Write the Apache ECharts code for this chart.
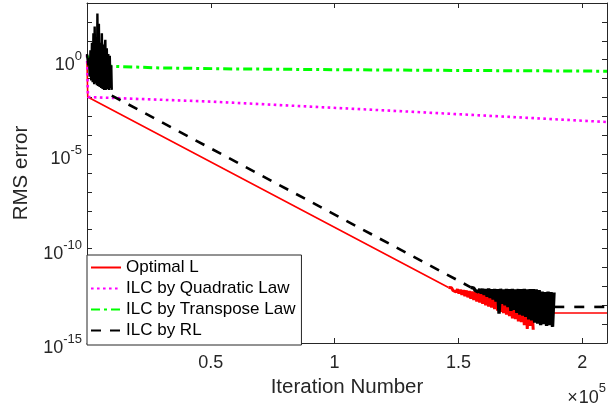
<!DOCTYPE html>
<html>
<head>
<meta charset="utf-8">
<script src="https://cdn.jsdelivr.net/npm/echarts@6/dist/echarts.min.js"></script>
<style>
html, body { margin: 0; padding: 0; background: #fff; }
#chart { width: 610px; height: 406px; }
</style>
</head>
<body>
<div id="chart"></div>
<script>
// values are [iteration, log10(RMS error)]
const seriesNames = ['Optimal L', 'ILC by Quadratic Law', 'ILC by Transpose Law', 'ILC by RL'];
const xTicks = [0, 50000, 100000, 150000, 200000];
const yLabelDecades = [-15, -10, -5, 0];

const optimalMain = [[0, -0.15], [300, -1.98], [146000, -12.06]];

const optimalBand = [
  [146000, -12.06],
  [146600, -12.14], [147200, -12.08], [147800, -12.22], [148400, -12.12], [149000, -12.30],
  [149600, -12.15], [150200, -12.38], [150800, -12.18], [151400, -12.45], [152000, -12.20],
  [152600, -12.52], [153200, -12.22], [153800, -12.58], [154400, -12.25], [155000, -12.66],
  [155600, -12.28], [156200, -12.72], [156800, -12.30], [157400, -12.80], [158000, -12.33],
  [158600, -12.86], [159200, -12.36], [159800, -12.93], [160400, -12.40], [161000, -13.00],
  [161600, -12.42], [162200, -13.07], [162800, -12.45], [163400, -13.13], [164000, -12.48],
  [164600, -13.20], [165200, -12.50], [165800, -13.28], [166400, -12.55], [167000, -13.35],
  [167600, -12.58], [168200, -13.42], [168800, -12.60], [169400, -13.50], [170000, -12.63],
  [170600, -13.58], [171200, -12.66], [171800, -13.70], [172400, -12.70], [173000, -13.74],
  [173600, -12.72], [174200, -13.85], [174800, -12.75], [175400, -13.90], [176000, -12.78],
  [176600, -14.05], [177200, -12.82], [177800, -14.25], [178400, -12.85], [179000, -14.10],
  [179600, -12.88], [180200, -14.30]
];

const optimalTail = [[180400, -13.41], [210000, -13.41]];

const quadraticLaw = [[0, 0.25], [400, -1.98], [50000, -2.22], [130000, -2.75], [210000, -3.3]];

const transposeLaw = [
  [0, 0.2], [2000, -0.15], [5000, -0.28], [10000, -0.35], [30000, -0.44],
  [60000, -0.49], [100000, -0.53], [150000, -0.57], [210000, -0.61]
];

const rlBurst = [
  [0, 0.3], [500, -0.3], [800, 0.1], [1100, -0.9], [1400, 0.5], [1700, -1.1], [2000, 0.9],
  [2300, -1.2], [2600, 1.4], [2900, -1.3], [3100, 1.75], [3400, -1.25], [3700, 1.1],
  [4000, -1.35], [4200, 2.45], [4500, -1.4], [4800, 1.9], [5100, -1.45], [5400, 0.9],
  [5700, -1.5], [6000, 1.4], [6300, -1.55], [6600, 0.8], [6900, -1.6], [7200, 0.7],
  [7400, 1.05], [7700, -1.6], [8000, 0.6], [8300, -1.55], [8600, 0.3], [8900, -1.6],
  [9200, 0.2], [9500, -1.5], [9800, -0.3], [10000, -1.6]
];

const rlDecay = [[10000, -1.9], [155000, -12.05]];

const rlBand = [
  [155000, -12.05], [155600, -12.12], [156200, -12.10], [156800, -12.22], [157400, -12.12],
  [158000, -12.30], [158600, -12.14], [159200, -12.38], [159800, -12.13], [160400, -12.45],
  [161000, -12.15], [161600, -12.55], [162200, -12.12], [162800, -12.62], [163400, -12.16],
  [164000, -12.70], [164600, -12.14], [165200, -12.80], [165800, -12.15], [166400, -13.45],
  [167000, -12.13], [167600, -12.92], [168200, -12.16], [168800, -13.00], [169400, -12.14],
  [170000, -13.10], [170600, -12.15], [171200, -13.30], [171800, -12.13], [172400, -13.25],
  [173000, -12.16], [173600, -13.40], [174200, -12.14], [174800, -13.50], [175400, -12.15],
  [176000, -13.55], [176600, -12.13], [177200, -13.62], [177800, -12.16], [178400, -13.75],
  [179000, -12.15], [179600, -13.80], [180200, -12.14], [180800, -13.92], [181400, -12.16],
  [182000, -13.98], [182600, -12.20], [183200, -14.05], [183800, -12.28], [184400, -14.00],
  [185000, -12.30], [185600, -14.10], [186200, -12.28], [186800, -14.05], [187400, -12.30],
  [188000, -14.15], [188600, -12.32]
];

const rlTail = [[188700, -13.09], [210000, -13.09]];

const FONT = 'Liberation Sans, Arial, Helvetica, sans-serif';
const INK = '#262626';

let chart = echarts.init(document.getElementById('chart'), null, { renderer: 'canvas' });

let baseAxisX = {
  type: 'value', min: 0, max: 210000, interval: 50000,
  axisLine: { show: true, onZero: false, lineStyle: { color: INK, width: 1 } },
  axisTick: { inside: true, length: 5, lineStyle: { color: INK } },
  splitLine: { show: false }
};
let baseAxisY = {
  type: 'value', min: -15, max: 3, interval: 1,
  axisLine: { show: true, onZero: false, lineStyle: { color: INK, width: 1 } },
  axisTick: { inside: true, length: 5, lineStyle: { color: INK } },
  splitLine: { show: false }
};

function lineSeries(name, data, color, width, dash) {
  return {
    name: name, type: 'line', data: data, symbol: 'none', showSymbol: false,
    lineStyle: { color: color, width: width, type: dash || 'solid' },
    itemStyle: { color: color }
  };
}

let option = {
  animation: false,
  backgroundColor: '#fff',
  textStyle: { fontFamily: FONT },
  grid: { left: 87, right: 2, top: 3, bottom: 63, containLabel: false },
  xAxis: [
    Object.assign({}, baseAxisX, {
      position: 'bottom',
      name: 'Iteration Number', nameLocation: 'middle', nameGap: 31,
      nameTextStyle: { fontSize: 20.5, color: INK, fontFamily: FONT },
      axisLabel: {
        fontSize: 18, color: INK, fontFamily: FONT, margin: 11,
        formatter: function (v) {
          return xTicks.indexOf(v) > 0 ? String(v / 100000) : '';
        }
      }
    }),
    Object.assign({}, baseAxisX, { position: 'top', axisLabel: { show: false } })
  ],
  yAxis: [
    Object.assign({}, baseAxisY, {
      position: 'left',
      name: 'RMS error', nameLocation: 'middle', nameGap: 53,
      nameTextStyle: { fontSize: 20.5, color: INK, fontFamily: FONT },
      axisLabel: {
        interval: 0, margin: 5, color: INK, fontFamily: FONT,
        formatter: function (v) {
          return yLabelDecades.indexOf(v) >= 0 ? '{b|10}{s|' + v + '}' : '';
        },
        rich: {
          b: { fontSize: 18, color: INK, fontFamily: FONT, lineHeight: 28, verticalAlign: 'bottom' },
          s: { fontSize: 13, color: INK, fontFamily: FONT, lineHeight: 28, verticalAlign: 'top', padding: [4, 0, 0, 0] }
        }
      }
    }),
    Object.assign({}, baseAxisY, { position: 'right', axisLabel: { show: false } })
  ],
  legend: {
    data: seriesNames,
    orient: 'vertical', left: 87, top: 255,
    itemWidth: 30, itemHeight: 14, itemGap: 4,
    padding: [4, 6, 6, 3],
    backgroundColor: '#fff', borderColor: INK, borderWidth: 1, borderRadius: 0,
    itemStyle: { opacity: 0, borderWidth: 0 },
    textStyle: { fontSize: 17, color: '#000', fontFamily: FONT },
    selectedMode: false
  },
  graphic: [{
    type: 'text', right: 4, top: 382,
    style: {
      text: '{m|\u00d7}{b|10}{s|5}',
      rich: {
        m: { fontSize: 18, fill: INK, fontFamily: FONT, lineHeight: 25, verticalAlign: 'bottom', padding: [0, 1, 0, 0] },
        b: { fontSize: 18, fill: INK, fontFamily: FONT, lineHeight: 25, verticalAlign: 'bottom' },
        s: { fontSize: 13, fill: INK, fontFamily: FONT, lineHeight: 25, verticalAlign: 'top' }
      }
    }
  }],
  series: [
    lineSeries(seriesNames[0], optimalMain, '#ff0000', 1.6),
    lineSeries(seriesNames[1], quadraticLaw, '#ff00ff', 2.6, [2.6, 3.4]),
    lineSeries(seriesNames[2], transposeLaw, '#00ff00', 3, [9, 4, 3, 4]),
    lineSeries(seriesNames[3], rlDecay, '#000000', 2.6, [10, 9]),
    lineSeries('opt-band', optimalBand, '#ff0000', 3),
    lineSeries('opt-tail', optimalTail, '#ff0000', 1.6),
    lineSeries('rl-burst', rlBurst, '#000000', 2.4),
    lineSeries('rl-band', rlBand, '#000000', 3.4),
    lineSeries('rl-tail', rlTail, '#000000', 2.6, [10, 10])
  ]
};

chart.setOption(option);
</script>
</body>
</html>
